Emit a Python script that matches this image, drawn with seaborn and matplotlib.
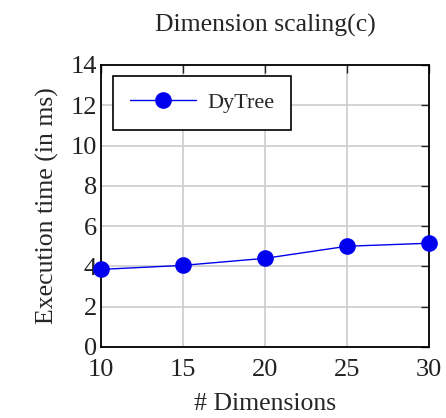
import matplotlib
matplotlib.use('Agg')
import matplotlib.pyplot as plt
import seaborn as sns
import pandas as pd

sns.set_style('whitegrid')
plt.rcParams['font.family'] = ['Liberation Serif', 'DejaVu Serif']

dimensions = [10, 15, 20, 25, 30]
exec_time = [3.85, 4.05, 4.4, 5.0, 5.15]
x_ticks = [10, 15, 20, 25, 30]
y_ticks = [0, 2, 4, 6, 8, 10, 12, 14]

df = pd.DataFrame({'dim': dimensions, 'time': exec_time})

fig = plt.figure(figsize=(4.46, 4.18), dpi=100)
ax = fig.add_axes([0.2265, 0.170, 0.7355, 0.6745])

sns.lineplot(data=df, x='dim', y='time', ax=ax, color='#0000ee',
             marker='o', markersize=12, markeredgewidth=0, linewidth=1.0,
             label='DyTree', clip_on=False, zorder=5)

ax.set_xlim(10, 30)
ax.set_ylim(0, 14)
ax.set_xticks(x_ticks)
ax.set_yticks(y_ticks)
ax.grid(True, color='#cccccc', linewidth=1.2)
for s in ax.spines.values():
    s.set_color('black')
    s.set_linewidth(1.3)
ax.tick_params(direction='in', length=6, width=1, colors='#222222',
               labelsize=19, top=True, right=True, pad=3)
ax.tick_params(axis='x', pad=9)
ax.set_xlabel('# Dimensions', fontsize=18.5, labelpad=8)
ax.set_ylabel('Execution time (in ms)', fontsize=18.5, labelpad=8)
ax.set_title('Dimension scaling(c)', fontsize=18.5, pad=24)

leg = ax.legend(loc='upper left', fontsize=16, frameon=True, fancybox=False,
                framealpha=1, edgecolor='black', borderpad=0.75,
                handlelength=3.0, handletextpad=0.5, borderaxespad=0,
                bbox_to_anchor=(0.037, 0.961))
leg.get_frame().set_linewidth(1.2)

fig.savefig('out.png', dpi=100)
